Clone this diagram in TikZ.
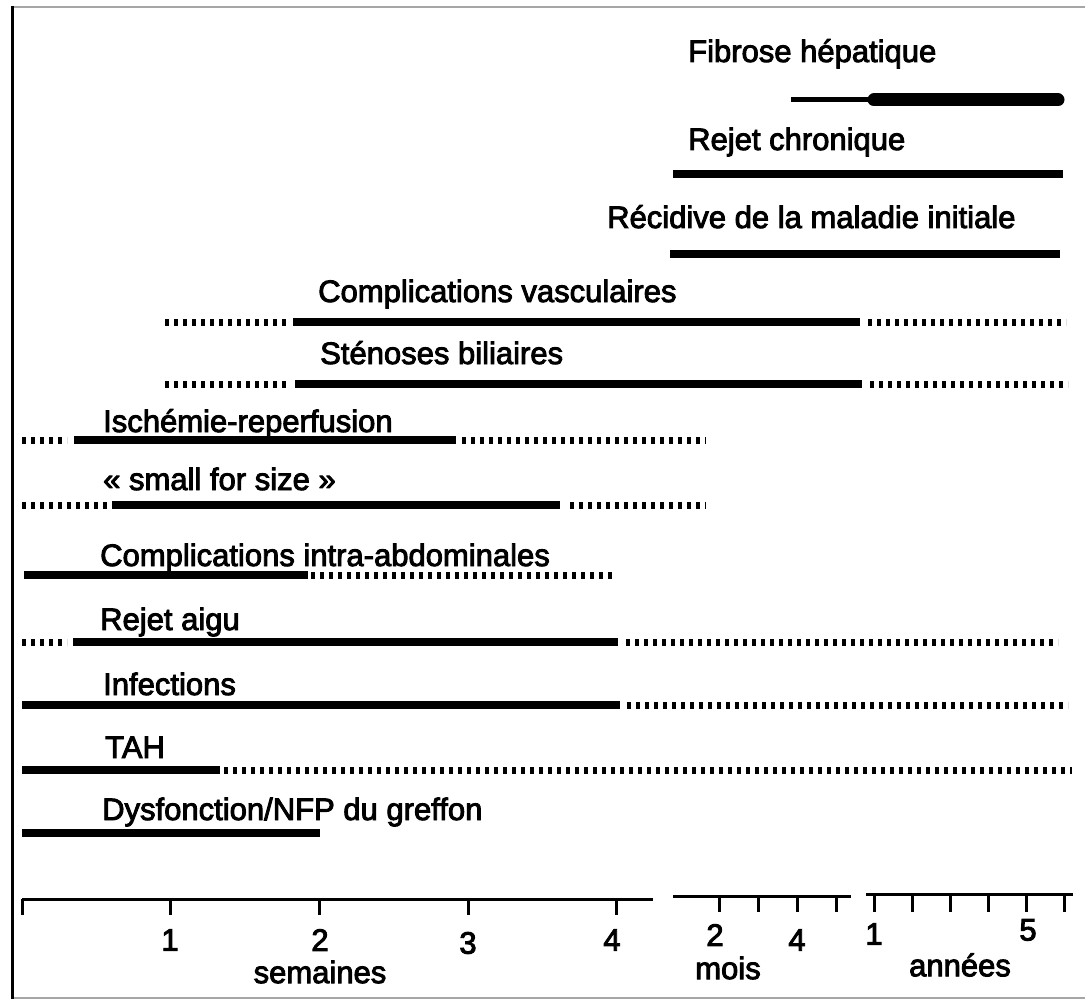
\documentclass[tikz,border=0pt]{standalone}
\usepackage{fontspec}
\setmainfont{Liberation Sans}
\newcommand{\heavytext}[1]{\special{pdf:code q 2 Tr 0.9 w}#1\special{pdf:code Q}}
\begin{document}
\begin{tikzpicture}[x=1pt,y=-1pt,
  lbl/.style={anchor=base west,inner sep=0pt,font=\fontsize{31}{36}\selectfont},
  axlbl/.style={anchor=center,inner sep=0pt,font=\fontsize{31}{36}\selectfont},
  solidbar/.style={line width=7.5pt},
  thinbar/.style={line width=5pt},
  fatbar/.style={line width=13pt,line cap=round},
  dotbar/.style={line width=7pt,dash pattern=on 3.5pt off 5.5pt},
  axisline/.style={line width=3pt},
  tickmark/.style={line width=3pt}]
\useasboundingbox (0,0) rectangle (1085,1003);
\fill[white] (0,0) rectangle (1085,1003);
% frame
\draw[gray!70,line width=2pt] (11,7) -- (1085,7);
\draw[gray!70,line width=2pt] (11,998) -- (1085,998);
\draw[line width=3pt] (12,6) -- (12,999);

% 1 Fibrose hepatique
\node[lbl] (l1) at (688,62) {\heavytext{Fibrose hépatique}};
\draw[thinbar] (791,100) -- (874,100);
\draw[fatbar] (874,100) -- (1058,100);
% 2 Rejet chronique
\node[lbl] (l2) at (688,150) {\heavytext{Rejet chronique}};
\draw[solidbar] (673,174) -- (1063,174);
% 3 Recidive
\node[lbl] (l3) at (607,228) {\heavytext{Récidive de la maladie initiale}};
\draw[solidbar] (670,254) -- (1060,254);
% 4 Complications vasculaires
\node[lbl] (l4) at (318,302) {\heavytext{Complications vasculaires}};
\draw[dotbar] (165,322) -- (288,322);
\draw[solidbar] (293,322) -- (860,322);
\draw[dotbar] (868,322) -- (1066,322);
% 5 Stenoses biliaires
\node[lbl] (l5) at (320,364) {\heavytext{Sténoses biliaires}};
\draw[dotbar] (165,384) -- (288,384);
\draw[solidbar] (295,384) -- (862,384);
\draw[dotbar] (870,384) -- (1068,384);
% 6 Ischemie-reperfusion
\node[lbl] (l6) at (103,432) {\heavytext{Ischémie-reperfusion}};
\draw[dotbar] (22,440) -- (67,440);
\draw[solidbar] (74,440) -- (456,440);
\draw[dotbar] (462,440) -- (706,440);
% 7 small for size
\node[lbl] (l7) at (103,490) {\heavytext{« small for size »}};
\draw[dotbar] (22,505) -- (109,505);
\draw[solidbar] (112,505) -- (560,505);
\draw[dotbar] (570,505) -- (706,505);
% 8 Complications intra-abdominales
\node[lbl] (l8) at (100,566) {\heavytext{Complications intra-abdominales}};
\draw[solidbar] (24,575) -- (308,575);
\draw[dotbar] (311,575) -- (612,575);
% 9 Rejet aigu
\node[lbl] (l9) at (100,630) {\heavytext{Rejet aigu}};
\draw[dotbar] (22,642) -- (67,642);
\draw[solidbar] (73,642) -- (618,642);
\draw[dotbar] (626,642) -- (1058,642);
% 10 Infections
\node[lbl] (l10) at (103,695) {\heavytext{Infections}};
\draw[solidbar] (22,705) -- (620,705);
\draw[dotbar] (627,705) -- (1068,705);
% 11 TAH
\node[lbl] (l11) at (105,758) {\heavytext{TAH}};
\draw[solidbar] (22,770) -- (220,770);
\draw[dotbar] (224,770) -- (1072,770);
% 12 Dysfonction
\node[lbl] (l12) at (102,820) {\heavytext{Dysfonction/NFP du greffon}};
\draw[solidbar] (22,833) -- (320,833);

% axis: weeks
\draw[axisline] (22,899) -- (653,899);
\foreach \x in {22,170,319,468,616} \draw[tickmark] (\x,899) -- (\x,915);
% months
\draw[axisline] (673,896) -- (851,896);
\foreach \x in {719,758,797,836} \draw[tickmark] (\x,896) -- (\x,912);
% years
\draw[axisline] (866,894) -- (1073,894);
\foreach \x in {874,912,950,988,1026,1064} \draw[tickmark] (\x,894) -- (\x,912);

\node[axlbl] (w1) at (170,940) {\heavytext{1}};
\node[axlbl] (w2) at (320,940) {\heavytext{2}};
\node[axlbl] (w3) at (468,943) {\heavytext{3}};
\node[axlbl] (w4) at (612,940) {\heavytext{4}};
\node[axlbl] (ws) at (320,972) {\heavytext{semaines}};
\node[axlbl] (m2) at (715,935) {\heavytext{2}};
\node[axlbl] (m4) at (797,940) {\heavytext{4}};
\node[axlbl] (mm) at (728,968) {\heavytext{mois}};
\node[axlbl] (y1) at (874,934) {\heavytext{1}};
\node[axlbl] (y5) at (1028,930) {\heavytext{5}};
\node[axlbl] (ya) at (960,965) {\heavytext{années}};
\end{tikzpicture}
\end{document}
